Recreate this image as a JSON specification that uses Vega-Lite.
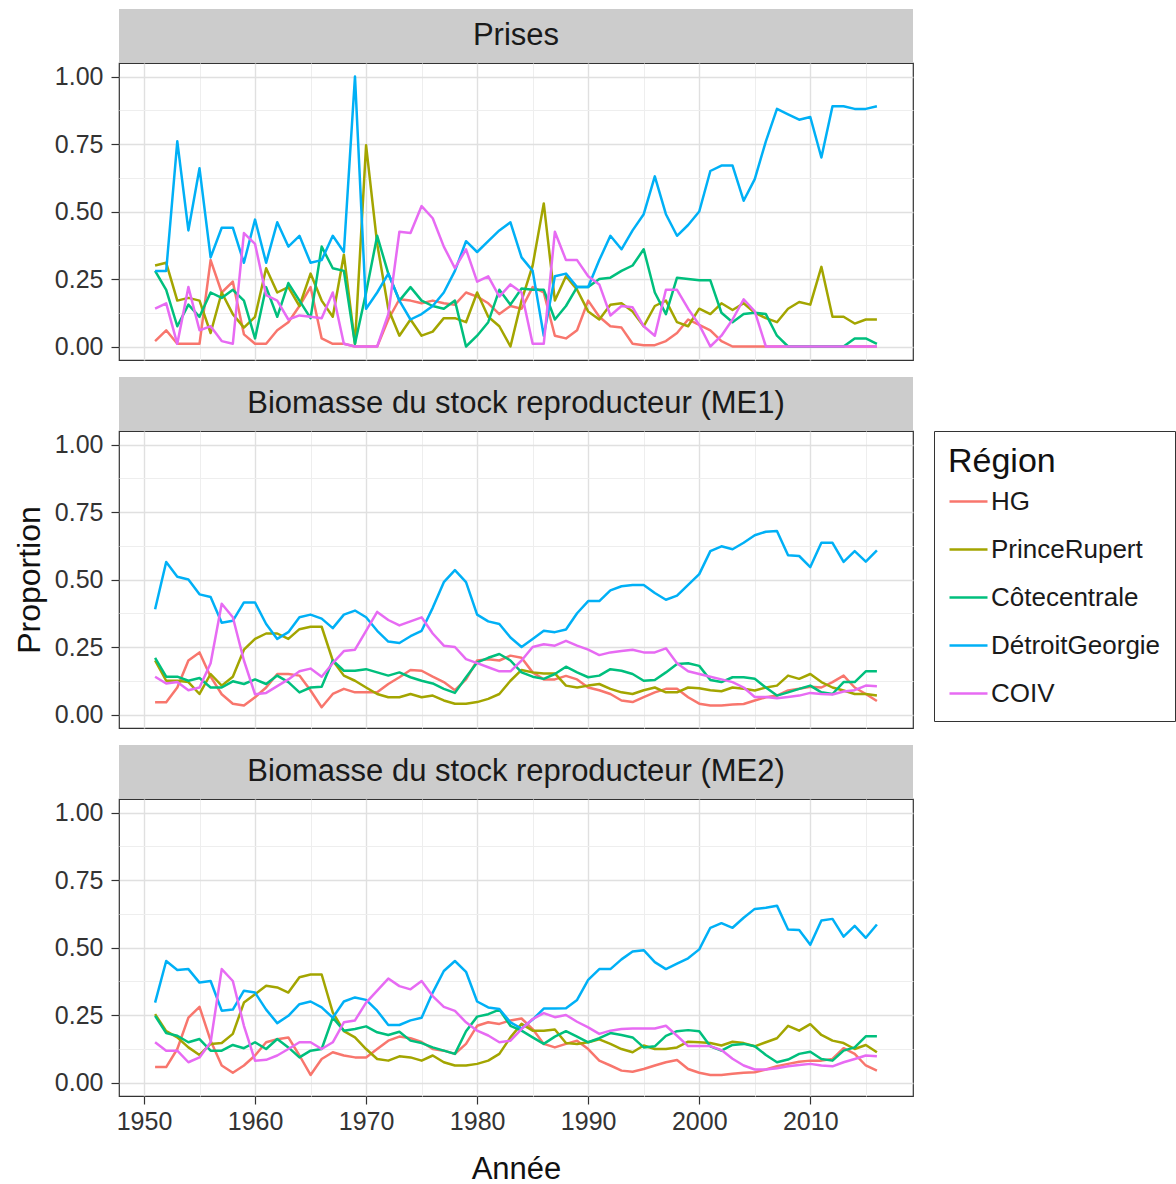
{
  "$schema": "https://vega.github.io/schema/vega-lite/v6.json",
  "background": "white",
  "padding": {"left": 12, "top": 9, "right": 0, "bottom": 0},
  "autosize": {"type": "pad"},
  "config": {
    "font": "Liberation Sans",
    "view": {"stroke": "#333333", "strokeWidth": 1.2},
    "concat": {"spacing": 16},
    "axis": {
      "labelFont": "Liberation Sans",
      "labelFontSize": 25,
      "labelColor": "#333333",
      "labelOverlap": false,
      "labelFlush": false,
      "tickColor": "#333333",
      "tickSize": 8,
      "tickWidth": 1.2,
      "domain": false,
      "titleFont": "Liberation Sans",
      "titleFontWeight": "normal",
      "titleColor": "#111111"
    },
    "legend": {
      "labelFont": "Liberation Sans",
      "titleFont": "Liberation Sans"
    }
  },
  "datasets": {
    "prises": [
      {"Année":1951,"HG":0.02,"PrinceRupert":0.30,"Côtecentrale":0.28,"DétroitGeorgie":0.28,"COIV":0.14},
      {"Année":1952,"HG":0.06,"PrinceRupert":0.31,"Côtecentrale":0.21,"DétroitGeorgie":0.28,"COIV":0.16},
      {"Année":1953,"HG":0.01,"PrinceRupert":0.17,"Côtecentrale":0.075,"DétroitGeorgie":0.76,"COIV":0.01},
      {"Année":1954,"HG":0.01,"PrinceRupert":0.18,"Côtecentrale":0.155,"DétroitGeorgie":0.43,"COIV":0.22},
      {"Année":1955,"HG":0.01,"PrinceRupert":0.17,"Côtecentrale":0.11,"DétroitGeorgie":0.66,"COIV":0.06},
      {"Année":1956,"HG":0.32,"PrinceRupert":0.05,"Côtecentrale":0.20,"DétroitGeorgie":0.33,"COIV":0.075},
      {"Année":1957,"HG":0.20,"PrinceRupert":0.20,"Côtecentrale":0.18,"DétroitGeorgie":0.44,"COIV":0.02},
      {"Année":1958,"HG":0.24,"PrinceRupert":0.12,"Côtecentrale":0.21,"DétroitGeorgie":0.44,"COIV":0.01},
      {"Année":1959,"HG":0.045,"PrinceRupert":0.07,"Côtecentrale":0.17,"DétroitGeorgie":0.31,"COIV":0.42},
      {"Année":1960,"HG":0.01,"PrinceRupert":0.11,"Côtecentrale":0.03,"DétroitGeorgie":0.47,"COIV":0.38},
      {"Année":1961,"HG":0.01,"PrinceRupert":0.29,"Côtecentrale":0.22,"DétroitGeorgie":0.31,"COIV":0.19},
      {"Année":1962,"HG":0.06,"PrinceRupert":0.20,"Côtecentrale":0.11,"DétroitGeorgie":0.46,"COIV":0.17},
      {"Année":1963,"HG":0.09,"PrinceRupert":0.22,"Côtecentrale":0.235,"DétroitGeorgie":0.37,"COIV":0.10},
      {"Année":1964,"HG":0.15,"PrinceRupert":0.15,"Côtecentrale":0.17,"DétroitGeorgie":0.41,"COIV":0.115},
      {"Année":1965,"HG":0.22,"PrinceRupert":0.27,"Côtecentrale":0.105,"DétroitGeorgie":0.31,"COIV":0.11},
      {"Année":1966,"HG":0.03,"PrinceRupert":0.17,"Côtecentrale":0.37,"DétroitGeorgie":0.32,"COIV":0.105},
      {"Année":1967,"HG":0.01,"PrinceRupert":0.11,"Côtecentrale":0.29,"DétroitGeorgie":0.41,"COIV":0.20},
      {"Année":1968,"HG":0.01,"PrinceRupert":0.34,"Côtecentrale":0.28,"DétroitGeorgie":0.35,"COIV":0.01},
      {"Année":1969,"HG":0.0,"PrinceRupert":0.01,"Côtecentrale":0.01,"DétroitGeorgie":1.00,"COIV":0.0},
      {"Année":1970,"HG":0.0,"PrinceRupert":0.745,"Côtecentrale":0.20,"DétroitGeorgie":0.14,"COIV":0.0},
      {"Année":1971,"HG":0.0,"PrinceRupert":0.38,"Côtecentrale":0.41,"DétroitGeorgie":0.20,"COIV":0.0},
      {"Année":1972,"HG":0.10,"PrinceRupert":0.14,"Côtecentrale":0.27,"DétroitGeorgie":0.27,"COIV":0.12},
      {"Année":1973,"HG":0.175,"PrinceRupert":0.04,"Côtecentrale":0.17,"DétroitGeorgie":0.17,"COIV":0.425},
      {"Année":1974,"HG":0.17,"PrinceRupert":0.10,"Côtecentrale":0.22,"DétroitGeorgie":0.10,"COIV":0.42},
      {"Année":1975,"HG":0.16,"PrinceRupert":0.04,"Côtecentrale":0.17,"DétroitGeorgie":0.12,"COIV":0.52},
      {"Année":1976,"HG":0.17,"PrinceRupert":0.055,"Côtecentrale":0.15,"DétroitGeorgie":0.15,"COIV":0.475},
      {"Année":1977,"HG":0.16,"PrinceRupert":0.105,"Côtecentrale":0.14,"DétroitGeorgie":0.20,"COIV":0.37},
      {"Année":1978,"HG":0.155,"PrinceRupert":0.105,"Côtecentrale":0.17,"DétroitGeorgie":0.28,"COIV":0.29},
      {"Année":1979,"HG":0.20,"PrinceRupert":0.09,"Côtecentrale":0.0,"DétroitGeorgie":0.39,"COIV":0.36},
      {"Année":1980,"HG":0.185,"PrinceRupert":0.20,"Côtecentrale":0.04,"DétroitGeorgie":0.35,"COIV":0.24},
      {"Année":1981,"HG":0.16,"PrinceRupert":0.11,"Côtecentrale":0.09,"DétroitGeorgie":0.39,"COIV":0.26},
      {"Année":1982,"HG":0.12,"PrinceRupert":0.075,"Côtecentrale":0.21,"DétroitGeorgie":0.43,"COIV":0.185},
      {"Année":1983,"HG":0.15,"PrinceRupert":0.0,"Côtecentrale":0.155,"DétroitGeorgie":0.46,"COIV":0.23},
      {"Année":1984,"HG":0.14,"PrinceRupert":0.17,"Côtecentrale":0.215,"DétroitGeorgie":0.33,"COIV":0.20},
      {"Année":1985,"HG":0.22,"PrinceRupert":0.30,"Côtecentrale":0.21,"DétroitGeorgie":0.28,"COIV":0.01},
      {"Année":1986,"HG":0.20,"PrinceRupert":0.53,"Côtecentrale":0.21,"DétroitGeorgie":0.04,"COIV":0.01},
      {"Année":1987,"HG":0.04,"PrinceRupert":0.17,"Côtecentrale":0.10,"DétroitGeorgie":0.26,"COIV":0.425},
      {"Année":1988,"HG":0.03,"PrinceRupert":0.26,"Côtecentrale":0.15,"DétroitGeorgie":0.27,"COIV":0.32},
      {"Année":1989,"HG":0.06,"PrinceRupert":0.21,"Côtecentrale":0.22,"DétroitGeorgie":0.22,"COIV":0.32},
      {"Année":1990,"HG":0.17,"PrinceRupert":0.13,"Côtecentrale":0.22,"DétroitGeorgie":0.22,"COIV":0.26},
      {"Année":1991,"HG":0.11,"PrinceRupert":0.10,"Côtecentrale":0.25,"DétroitGeorgie":0.32,"COIV":0.23},
      {"Année":1992,"HG":0.075,"PrinceRupert":0.155,"Côtecentrale":0.255,"DétroitGeorgie":0.41,"COIV":0.115},
      {"Année":1993,"HG":0.07,"PrinceRupert":0.16,"Côtecentrale":0.28,"DétroitGeorgie":0.36,"COIV":0.15},
      {"Année":1994,"HG":0.01,"PrinceRupert":0.13,"Côtecentrale":0.30,"DétroitGeorgie":0.43,"COIV":0.145},
      {"Année":1995,"HG":0.005,"PrinceRupert":0.075,"Côtecentrale":0.36,"DétroitGeorgie":0.49,"COIV":0.075},
      {"Année":1996,"HG":0.005,"PrinceRupert":0.15,"Côtecentrale":0.20,"DétroitGeorgie":0.63,"COIV":0.04},
      {"Année":1997,"HG":0.02,"PrinceRupert":0.17,"Côtecentrale":0.12,"DétroitGeorgie":0.49,"COIV":0.21},
      {"Année":1998,"HG":0.05,"PrinceRupert":0.09,"Côtecentrale":0.255,"DétroitGeorgie":0.41,"COIV":0.21},
      {"Année":1999,"HG":0.10,"PrinceRupert":0.075,"Côtecentrale":0.25,"DétroitGeorgie":0.45,"COIV":0.14},
      {"Année":2000,"HG":0.08,"PrinceRupert":0.14,"Côtecentrale":0.245,"DétroitGeorgie":0.50,"COIV":0.08},
      {"Année":2001,"HG":0.06,"PrinceRupert":0.12,"Côtecentrale":0.245,"DétroitGeorgie":0.65,"COIV":0.0},
      {"Année":2002,"HG":0.02,"PrinceRupert":0.16,"Côtecentrale":0.125,"DétroitGeorgie":0.67,"COIV":0.04},
      {"Année":2003,"HG":0.0,"PrinceRupert":0.135,"Côtecentrale":0.09,"DétroitGeorgie":0.67,"COIV":0.10},
      {"Année":2004,"HG":0.0,"PrinceRupert":0.16,"Côtecentrale":0.12,"DétroitGeorgie":0.54,"COIV":0.175},
      {"Année":2005,"HG":0.0,"PrinceRupert":0.125,"Côtecentrale":0.125,"DétroitGeorgie":0.62,"COIV":0.13},
      {"Année":2006,"HG":0.0,"PrinceRupert":0.105,"Côtecentrale":0.12,"DétroitGeorgie":0.76,"COIV":0.0},
      {"Année":2007,"HG":0.0,"PrinceRupert":0.09,"Côtecentrale":0.04,"DétroitGeorgie":0.88,"COIV":0.0},
      {"Année":2008,"HG":0.0,"PrinceRupert":0.14,"Côtecentrale":0.0,"DétroitGeorgie":0.86,"COIV":0.0},
      {"Année":2009,"HG":0.0,"PrinceRupert":0.165,"Côtecentrale":0.0,"DétroitGeorgie":0.84,"COIV":0.0},
      {"Année":2010,"HG":0.0,"PrinceRupert":0.155,"Côtecentrale":0.0,"DétroitGeorgie":0.85,"COIV":0.0},
      {"Année":2011,"HG":0.0,"PrinceRupert":0.295,"Côtecentrale":0.0,"DétroitGeorgie":0.70,"COIV":0.0},
      {"Année":2012,"HG":0.0,"PrinceRupert":0.11,"Côtecentrale":0.0,"DétroitGeorgie":0.89,"COIV":0.0},
      {"Année":2013,"HG":0.0,"PrinceRupert":0.11,"Côtecentrale":0.0,"DétroitGeorgie":0.89,"COIV":0.0},
      {"Année":2014,"HG":0.0,"PrinceRupert":0.085,"Côtecentrale":0.03,"DétroitGeorgie":0.88,"COIV":0.0},
      {"Année":2015,"HG":0.0,"PrinceRupert":0.10,"Côtecentrale":0.03,"DétroitGeorgie":0.88,"COIV":0.0},
      {"Année":2016,"HG":0.0,"PrinceRupert":0.10,"Côtecentrale":0.01,"DétroitGeorgie":0.89,"COIV":0.0}
    ],
    "me1": [
      {"Année":1951,"HG":0.045,"PrinceRupert":0.20,"Côtecentrale":0.21,"DétroitGeorgie":0.39,"COIV":0.14},
      {"Année":1952,"HG":0.045,"PrinceRupert":0.125,"Côtecentrale":0.14,"DétroitGeorgie":0.565,"COIV":0.115},
      {"Année":1953,"HG":0.10,"PrinceRupert":0.125,"Côtecentrale":0.14,"DétroitGeorgie":0.51,"COIV":0.12},
      {"Année":1954,"HG":0.20,"PrinceRupert":0.12,"Côtecentrale":0.125,"DétroitGeorgie":0.50,"COIV":0.09},
      {"Année":1955,"HG":0.23,"PrinceRupert":0.076,"Côtecentrale":0.135,"DétroitGeorgie":0.445,"COIV":0.10},
      {"Année":1956,"HG":0.14,"PrinceRupert":0.15,"Côtecentrale":0.10,"DétroitGeorgie":0.435,"COIV":0.19},
      {"Année":1957,"HG":0.075,"PrinceRupert":0.107,"Côtecentrale":0.10,"DétroitGeorgie":0.34,"COIV":0.41},
      {"Année":1958,"HG":0.04,"PrinceRupert":0.14,"Côtecentrale":0.123,"DétroitGeorgie":0.347,"COIV":0.36},
      {"Année":1959,"HG":0.033,"PrinceRupert":0.24,"Côtecentrale":0.113,"DétroitGeorgie":0.415,"COIV":0.20},
      {"Année":1960,"HG":0.064,"PrinceRupert":0.28,"Côtecentrale":0.13,"DétroitGeorgie":0.415,"COIV":0.075},
      {"Année":1961,"HG":0.10,"PrinceRupert":0.30,"Côtecentrale":0.113,"DétroitGeorgie":0.335,"COIV":0.08},
      {"Année":1962,"HG":0.15,"PrinceRupert":0.30,"Côtecentrale":0.144,"DétroitGeorgie":0.28,"COIV":0.105},
      {"Année":1963,"HG":0.15,"PrinceRupert":0.28,"Côtecentrale":0.12,"DétroitGeorgie":0.305,"COIV":0.13},
      {"Année":1964,"HG":0.144,"PrinceRupert":0.316,"Côtecentrale":0.082,"DétroitGeorgie":0.36,"COIV":0.16},
      {"Année":1965,"HG":0.089,"PrinceRupert":0.325,"Côtecentrale":0.10,"DétroitGeorgie":0.37,"COIV":0.17},
      {"Année":1966,"HG":0.027,"PrinceRupert":0.325,"Côtecentrale":0.103,"DétroitGeorgie":0.355,"COIV":0.14},
      {"Année":1967,"HG":0.076,"PrinceRupert":0.20,"Côtecentrale":0.20,"DétroitGeorgie":0.32,"COIV":0.19},
      {"Année":1968,"HG":0.095,"PrinceRupert":0.144,"Côtecentrale":0.162,"DétroitGeorgie":0.37,"COIV":0.235},
      {"Année":1969,"HG":0.082,"PrinceRupert":0.125,"Côtecentrale":0.162,"DétroitGeorgie":0.385,"COIV":0.24},
      {"Année":1970,"HG":0.082,"PrinceRupert":0.10,"Côtecentrale":0.168,"DétroitGeorgie":0.36,"COIV":0.31},
      {"Année":1971,"HG":0.082,"PrinceRupert":0.076,"Côtecentrale":0.156,"DétroitGeorgie":0.31,"COIV":0.38},
      {"Année":1972,"HG":0.113,"PrinceRupert":0.064,"Côtecentrale":0.144,"DétroitGeorgie":0.27,"COIV":0.35},
      {"Année":1973,"HG":0.138,"PrinceRupert":0.064,"Côtecentrale":0.156,"DétroitGeorgie":0.265,"COIV":0.33},
      {"Année":1974,"HG":0.165,"PrinceRupert":0.076,"Côtecentrale":0.138,"DétroitGeorgie":0.29,"COIV":0.345},
      {"Année":1975,"HG":0.162,"PrinceRupert":0.064,"Côtecentrale":0.125,"DétroitGeorgie":0.31,"COIV":0.36},
      {"Année":1976,"HG":0.14,"PrinceRupert":0.07,"Côtecentrale":0.115,"DétroitGeorgie":0.395,"COIV":0.30},
      {"Année":1977,"HG":0.12,"PrinceRupert":0.052,"Côtecentrale":0.095,"DétroitGeorgie":0.49,"COIV":0.255},
      {"Année":1978,"HG":0.09,"PrinceRupert":0.04,"Côtecentrale":0.08,"DétroitGeorgie":0.535,"COIV":0.25},
      {"Année":1979,"HG":0.13,"PrinceRupert":0.04,"Côtecentrale":0.138,"DétroitGeorgie":0.49,"COIV":0.205},
      {"Année":1980,"HG":0.20,"PrinceRupert":0.046,"Côtecentrale":0.193,"DétroitGeorgie":0.37,"COIV":0.19},
      {"Année":1981,"HG":0.205,"PrinceRupert":0.058,"Côtecentrale":0.21,"DétroitGeorgie":0.345,"COIV":0.175},
      {"Année":1982,"HG":0.20,"PrinceRupert":0.076,"Côtecentrale":0.224,"DétroitGeorgie":0.335,"COIV":0.16},
      {"Année":1983,"HG":0.218,"PrinceRupert":0.125,"Côtecentrale":0.20,"DétroitGeorgie":0.285,"COIV":0.16},
      {"Année":1984,"HG":0.21,"PrinceRupert":0.165,"Côtecentrale":0.156,"DétroitGeorgie":0.25,"COIV":0.20},
      {"Année":1985,"HG":0.156,"PrinceRupert":0.156,"Côtecentrale":0.14,"DétroitGeorgie":0.28,"COIV":0.25},
      {"Année":1986,"HG":0.13,"PrinceRupert":0.152,"Côtecentrale":0.132,"DétroitGeorgie":0.31,"COIV":0.26},
      {"Année":1987,"HG":0.13,"PrinceRupert":0.152,"Côtecentrale":0.15,"DétroitGeorgie":0.305,"COIV":0.255},
      {"Année":1988,"HG":0.143,"PrinceRupert":0.107,"Côtecentrale":0.177,"DétroitGeorgie":0.315,"COIV":0.273},
      {"Année":1989,"HG":0.13,"PrinceRupert":0.10,"Côtecentrale":0.156,"DétroitGeorgie":0.375,"COIV":0.255},
      {"Année":1990,"HG":0.10,"PrinceRupert":0.107,"Côtecentrale":0.138,"DétroitGeorgie":0.42,"COIV":0.24},
      {"Année":1991,"HG":0.09,"PrinceRupert":0.113,"Côtecentrale":0.144,"DétroitGeorgie":0.42,"COIV":0.22},
      {"Année":1992,"HG":0.076,"PrinceRupert":0.095,"Côtecentrale":0.168,"DétroitGeorgie":0.46,"COIV":0.23},
      {"Année":1993,"HG":0.052,"PrinceRupert":0.082,"Côtecentrale":0.162,"DétroitGeorgie":0.475,"COIV":0.235},
      {"Année":1994,"HG":0.046,"PrinceRupert":0.076,"Côtecentrale":0.15,"DétroitGeorgie":0.48,"COIV":0.24},
      {"Année":1995,"HG":0.064,"PrinceRupert":0.09,"Côtecentrale":0.125,"DétroitGeorgie":0.48,"COIV":0.23},
      {"Année":1996,"HG":0.082,"PrinceRupert":0.10,"Côtecentrale":0.128,"DétroitGeorgie":0.45,"COIV":0.23},
      {"Année":1997,"HG":0.095,"PrinceRupert":0.082,"Côtecentrale":0.156,"DétroitGeorgie":0.425,"COIV":0.245},
      {"Année":1998,"HG":0.095,"PrinceRupert":0.082,"Côtecentrale":0.187,"DétroitGeorgie":0.44,"COIV":0.19},
      {"Année":1999,"HG":0.064,"PrinceRupert":0.10,"Côtecentrale":0.19,"DétroitGeorgie":0.48,"COIV":0.16},
      {"Année":2000,"HG":0.04,"PrinceRupert":0.097,"Côtecentrale":0.18,"DétroitGeorgie":0.52,"COIV":0.15},
      {"Année":2001,"HG":0.033,"PrinceRupert":0.09,"Côtecentrale":0.128,"DétroitGeorgie":0.605,"COIV":0.14},
      {"Année":2002,"HG":0.033,"PrinceRupert":0.086,"Côtecentrale":0.12,"DétroitGeorgie":0.623,"COIV":0.13},
      {"Année":2003,"HG":0.037,"PrinceRupert":0.10,"Côtecentrale":0.138,"DétroitGeorgie":0.612,"COIV":0.12},
      {"Année":2004,"HG":0.039,"PrinceRupert":0.095,"Côtecentrale":0.138,"DétroitGeorgie":0.636,"COIV":0.10},
      {"Année":2005,"HG":0.052,"PrinceRupert":0.089,"Côtecentrale":0.132,"DétroitGeorgie":0.664,"COIV":0.065},
      {"Année":2006,"HG":0.064,"PrinceRupert":0.10,"Côtecentrale":0.10,"DétroitGeorgie":0.677,"COIV":0.065},
      {"Année":2007,"HG":0.07,"PrinceRupert":0.107,"Côtecentrale":0.07,"DétroitGeorgie":0.68,"COIV":0.06},
      {"Année":2008,"HG":0.089,"PrinceRupert":0.144,"Côtecentrale":0.082,"DétroitGeorgie":0.59,"COIV":0.065},
      {"Année":2009,"HG":0.095,"PrinceRupert":0.132,"Côtecentrale":0.095,"DétroitGeorgie":0.587,"COIV":0.07},
      {"Année":2010,"HG":0.103,"PrinceRupert":0.15,"Côtecentrale":0.107,"DétroitGeorgie":0.546,"COIV":0.08},
      {"Année":2011,"HG":0.10,"PrinceRupert":0.12,"Côtecentrale":0.082,"DétroitGeorgie":0.636,"COIV":0.076},
      {"Année":2012,"HG":0.12,"PrinceRupert":0.10,"Côtecentrale":0.076,"DétroitGeorgie":0.636,"COIV":0.074},
      {"Année":2013,"HG":0.144,"PrinceRupert":0.089,"Côtecentrale":0.12,"DétroitGeorgie":0.565,"COIV":0.085},
      {"Année":2014,"HG":0.10,"PrinceRupert":0.076,"Côtecentrale":0.12,"DétroitGeorgie":0.605,"COIV":0.09},
      {"Année":2015,"HG":0.076,"PrinceRupert":0.076,"Côtecentrale":0.16,"DétroitGeorgie":0.566,"COIV":0.107},
      {"Année":2016,"HG":0.05,"PrinceRupert":0.07,"Côtecentrale":0.16,"DétroitGeorgie":0.608,"COIV":0.105}
    ],
    "me2": [
      {"Année":1951,"HG":0.057,"PrinceRupert":0.253,"Côtecentrale":0.247,"DétroitGeorgie":0.296,"COIV":0.149},
      {"Année":1952,"HG":0.057,"PrinceRupert":0.19,"Côtecentrale":0.183,"DétroitGeorgie":0.45,"COIV":0.118},
      {"Année":1953,"HG":0.124,"PrinceRupert":0.167,"Côtecentrale":0.173,"DétroitGeorgie":0.417,"COIV":0.118},
      {"Année":1954,"HG":0.24,"PrinceRupert":0.13,"Côtecentrale":0.149,"DétroitGeorgie":0.42,"COIV":0.075},
      {"Année":1955,"HG":0.28,"PrinceRupert":0.102,"Côtecentrale":0.161,"DétroitGeorgie":0.37,"COIV":0.093},
      {"Année":1956,"HG":0.155,"PrinceRupert":0.143,"Côtecentrale":0.118,"DétroitGeorgie":0.376,"COIV":0.149},
      {"Année":1957,"HG":0.063,"PrinceRupert":0.146,"Côtecentrale":0.118,"DétroitGeorgie":0.266,"COIV":0.42},
      {"Année":1958,"HG":0.036,"PrinceRupert":0.18,"Côtecentrale":0.139,"DétroitGeorgie":0.27,"COIV":0.376},
      {"Année":1959,"HG":0.063,"PrinceRupert":0.296,"Côtecentrale":0.127,"DétroitGeorgie":0.34,"COIV":0.21},
      {"Année":1960,"HG":0.10,"PrinceRupert":0.327,"Côtecentrale":0.149,"DétroitGeorgie":0.333,"COIV":0.081},
      {"Année":1961,"HG":0.149,"PrinceRupert":0.358,"Côtecentrale":0.124,"DétroitGeorgie":0.27,"COIV":0.084},
      {"Année":1962,"HG":0.16,"PrinceRupert":0.352,"Côtecentrale":0.161,"DétroitGeorgie":0.22,"COIV":0.10},
      {"Année":1963,"HG":0.167,"PrinceRupert":0.333,"Côtecentrale":0.13,"DétroitGeorgie":0.247,"COIV":0.124},
      {"Année":1964,"HG":0.10,"PrinceRupert":0.39,"Côtecentrale":0.093,"DétroitGeorgie":0.29,"COIV":0.149},
      {"Année":1965,"HG":0.028,"PrinceRupert":0.40,"Côtecentrale":0.118,"DétroitGeorgie":0.30,"COIV":0.149},
      {"Année":1966,"HG":0.087,"PrinceRupert":0.40,"Côtecentrale":0.124,"DétroitGeorgie":0.278,"COIV":0.124},
      {"Année":1967,"HG":0.112,"PrinceRupert":0.26,"Côtecentrale":0.24,"DétroitGeorgie":0.24,"COIV":0.149},
      {"Année":1968,"HG":0.10,"PrinceRupert":0.19,"Côtecentrale":0.192,"DétroitGeorgie":0.30,"COIV":0.223},
      {"Année":1969,"HG":0.093,"PrinceRupert":0.167,"Côtecentrale":0.198,"DétroitGeorgie":0.315,"COIV":0.23},
      {"Année":1970,"HG":0.093,"PrinceRupert":0.124,"Côtecentrale":0.208,"DétroitGeorgie":0.306,"COIV":0.296},
      {"Année":1971,"HG":0.124,"PrinceRupert":0.087,"Côtecentrale":0.186,"DétroitGeorgie":0.266,"COIV":0.34},
      {"Année":1972,"HG":0.155,"PrinceRupert":0.081,"Côtecentrale":0.176,"DétroitGeorgie":0.213,"COIV":0.385},
      {"Année":1973,"HG":0.17,"PrinceRupert":0.097,"Côtecentrale":0.188,"DétroitGeorgie":0.213,"COIV":0.357},
      {"Année":1974,"HG":0.164,"PrinceRupert":0.093,"Côtecentrale":0.155,"DétroitGeorgie":0.23,"COIV":0.345},
      {"Année":1975,"HG":0.15,"PrinceRupert":0.081,"Côtecentrale":0.146,"DétroitGeorgie":0.24,"COIV":0.376},
      {"Année":1976,"HG":0.124,"PrinceRupert":0.10,"Côtecentrale":0.13,"DétroitGeorgie":0.333,"COIV":0.32},
      {"Année":1977,"HG":0.118,"PrinceRupert":0.075,"Côtecentrale":0.118,"DétroitGeorgie":0.413,"COIV":0.28},
      {"Année":1978,"HG":0.106,"PrinceRupert":0.063,"Côtecentrale":0.106,"DétroitGeorgie":0.45,"COIV":0.265},
      {"Année":1979,"HG":0.143,"PrinceRupert":0.063,"Côtecentrale":0.19,"DétroitGeorgie":0.41,"COIV":0.223},
      {"Année":1980,"HG":0.21,"PrinceRupert":0.069,"Côtecentrale":0.244,"DétroitGeorgie":0.30,"COIV":0.192},
      {"Année":1981,"HG":0.223,"PrinceRupert":0.081,"Côtecentrale":0.253,"DétroitGeorgie":0.278,"COIV":0.174},
      {"Année":1982,"HG":0.217,"PrinceRupert":0.106,"Côtecentrale":0.27,"DétroitGeorgie":0.272,"COIV":0.149},
      {"Année":1983,"HG":0.23,"PrinceRupert":0.167,"Côtecentrale":0.21,"DétroitGeorgie":0.223,"COIV":0.155},
      {"Année":1984,"HG":0.237,"PrinceRupert":0.217,"Côtecentrale":0.192,"DétroitGeorgie":0.20,"COIV":0.198},
      {"Année":1985,"HG":0.198,"PrinceRupert":0.192,"Côtecentrale":0.167,"DétroitGeorgie":0.233,"COIV":0.235},
      {"Année":1986,"HG":0.143,"PrinceRupert":0.192,"Côtecentrale":0.143,"DétroitGeorgie":0.274,"COIV":0.257},
      {"Année":1987,"HG":0.13,"PrinceRupert":0.196,"Côtecentrale":0.17,"DétroitGeorgie":0.274,"COIV":0.242},
      {"Année":1988,"HG":0.143,"PrinceRupert":0.146,"Côtecentrale":0.19,"DétroitGeorgie":0.275,"COIV":0.25},
      {"Année":1989,"HG":0.155,"PrinceRupert":0.143,"Côtecentrale":0.17,"DétroitGeorgie":0.306,"COIV":0.225},
      {"Année":1990,"HG":0.124,"PrinceRupert":0.149,"Côtecentrale":0.149,"DétroitGeorgie":0.38,"COIV":0.204},
      {"Année":1991,"HG":0.081,"PrinceRupert":0.16,"Côtecentrale":0.164,"DétroitGeorgie":0.42,"COIV":0.18},
      {"Année":1992,"HG":0.063,"PrinceRupert":0.143,"Côtecentrale":0.183,"DétroitGeorgie":0.42,"COIV":0.192},
      {"Année":1993,"HG":0.044,"PrinceRupert":0.124,"Côtecentrale":0.176,"DétroitGeorgie":0.456,"COIV":0.198},
      {"Année":1994,"HG":0.04,"PrinceRupert":0.112,"Côtecentrale":0.167,"DétroitGeorgie":0.485,"COIV":0.20},
      {"Année":1995,"HG":0.05,"PrinceRupert":0.137,"Côtecentrale":0.13,"DétroitGeorgie":0.49,"COIV":0.20},
      {"Année":1996,"HG":0.063,"PrinceRupert":0.124,"Côtecentrale":0.134,"DétroitGeorgie":0.446,"COIV":0.20},
      {"Année":1997,"HG":0.075,"PrinceRupert":0.124,"Côtecentrale":0.173,"DétroitGeorgie":0.42,"COIV":0.21},
      {"Année":1998,"HG":0.083,"PrinceRupert":0.13,"Côtecentrale":0.19,"DétroitGeorgie":0.44,"COIV":0.173},
      {"Année":1999,"HG":0.05,"PrinceRupert":0.151,"Côtecentrale":0.194,"DétroitGeorgie":0.46,"COIV":0.135},
      {"Année":2000,"HG":0.036,"PrinceRupert":0.149,"Côtecentrale":0.19,"DétroitGeorgie":0.493,"COIV":0.135},
      {"Année":2001,"HG":0.028,"PrinceRupert":0.146,"Côtecentrale":0.134,"DétroitGeorgie":0.573,"COIV":0.135},
      {"Année":2002,"HG":0.028,"PrinceRupert":0.137,"Côtecentrale":0.118,"DétroitGeorgie":0.59,"COIV":0.12},
      {"Année":2003,"HG":0.032,"PrinceRupert":0.151,"Côtecentrale":0.139,"DétroitGeorgie":0.573,"COIV":0.088},
      {"Année":2004,"HG":0.036,"PrinceRupert":0.146,"Côtecentrale":0.143,"DétroitGeorgie":0.61,"COIV":0.063},
      {"Année":2005,"HG":0.038,"PrinceRupert":0.134,"Côtecentrale":0.134,"DétroitGeorgie":0.643,"COIV":0.048},
      {"Année":2006,"HG":0.048,"PrinceRupert":0.149,"Côtecentrale":0.102,"DétroitGeorgie":0.647,"COIV":0.048},
      {"Année":2007,"HG":0.06,"PrinceRupert":0.164,"Côtecentrale":0.075,"DétroitGeorgie":0.655,"COIV":0.053},
      {"Année":2008,"HG":0.069,"PrinceRupert":0.21,"Côtecentrale":0.085,"DétroitGeorgie":0.567,"COIV":0.06},
      {"Année":2009,"HG":0.077,"PrinceRupert":0.192,"Côtecentrale":0.106,"DétroitGeorgie":0.565,"COIV":0.065},
      {"Année":2010,"HG":0.081,"PrinceRupert":0.216,"Côtecentrale":0.114,"DétroitGeorgie":0.51,"COIV":0.069},
      {"Année":2011,"HG":0.081,"PrinceRupert":0.176,"Côtecentrale":0.087,"DétroitGeorgie":0.60,"COIV":0.063},
      {"Année":2012,"HG":0.087,"PrinceRupert":0.155,"Côtecentrale":0.081,"DétroitGeorgie":0.606,"COIV":0.06},
      {"Année":2013,"HG":0.127,"PrinceRupert":0.146,"Côtecentrale":0.118,"DétroitGeorgie":0.54,"COIV":0.075},
      {"Année":2014,"HG":0.106,"PrinceRupert":0.124,"Côtecentrale":0.13,"DétroitGeorgie":0.58,"COIV":0.087},
      {"Année":2015,"HG":0.063,"PrinceRupert":0.139,"Côtecentrale":0.171,"DétroitGeorgie":0.536,"COIV":0.10},
      {"Année":2016,"HG":0.044,"PrinceRupert":0.112,"Côtecentrale":0.171,"DétroitGeorgie":0.585,"COIV":0.097}
    ]
  },
  "vconcat": [
    {
      "spacing": 0,
      "vconcat": [
        {
          "width": 794, "height": 53,
          "view": {"fill": "#cccccc", "stroke": null},
          "data": {"values": [{"titre": "Prises"}]},
          "mark": {"type": "text", "fontSize": 31, "color": "#1a1a1a", "font": "Liberation Sans"},
          "encoding": {"text": {"field": "titre"}}
        },
        {
          "width": 794, "height": 297,
          "data": {"name": "prises"},
          "transform": [{"fold": ["HG", "PrinceRupert", "Côtecentrale", "DétroitGeorgie", "COIV"], "as": ["Région", "Proportion"]}],
          "mark": {"type": "line", "strokeWidth": 2.5, "strokeJoin": "round"},
          "encoding": {
            "x": {"field": "Année", "type": "quantitative",
              "scale": {"domain": [1947.75, 2019.25], "nice": false, "zero": false},
              "axis": {"title": null, "values": [1950,1955,1960,1965,1970,1975,1980,1985,1990,1995,2000,2005,2010,2015], "labels": false, "ticks": false,
                "gridColor": {"condition": {"test": "datum.value % 10 === 0", "value": "#e0e0e0"}, "value": "#eeeeee"},
                "gridWidth": {"condition": {"test": "datum.value % 10 === 0", "value": 1.4}, "value": 1}}},
            "y": {"field": "Proportion", "type": "quantitative",
              "scale": {"domain": [-0.05, 1.05], "nice": false, "zero": false},
              "axis": {"title": null, "values": [0,0.125,0.25,0.375,0.5,0.625,0.75,0.875,1], "labelPadding": 8,
                "labelExpr": "datum.value * 4 % 1 === 0 ? format(datum.value, '.2f') : ''",
                "tickOpacity": {"condition": {"test": "datum.value * 4 % 1 === 0", "value": 1}, "value": 0},
                "gridColor": {"condition": {"test": "datum.value * 4 % 1 === 0", "value": "#e0e0e0"}, "value": "#eeeeee"},
                "gridWidth": {"condition": {"test": "datum.value * 4 % 1 === 0", "value": 1.4}, "value": 1}}},
            "color": {"field": "Région", "type": "nominal",
              "scale": {"domain": ["HG", "PrinceRupert", "Côtecentrale", "DétroitGeorgie", "COIV"], "range": ["#F8766D", "#A3A500", "#00BF7D", "#00B0F6", "#E76BF3"]},
              "legend": {"title": "Région", "orient": "none", "legendX": 815, "legendY": 422,
                "titleFontSize": 34, "titleFontWeight": "normal", "titleColor": "#111111", "titlePadding": 2,
                "labelFontSize": 26, "labelColor": "#1a1a1a", "labelOffset": 2, "labelLimit": 400,
                "symbolType": "stroke", "symbolSize": 1444, "symbolStrokeWidth": 2.5,
                "rowPadding": 14, "padding": 14, "strokeColor": "#333333"}}
          }
        }
      ]
    },
    {
      "spacing": 0,
      "vconcat": [
        {
          "width": 794, "height": 53,
          "view": {"fill": "#cccccc", "stroke": null},
          "data": {"values": [{"titre": "Biomasse du stock reproducteur (ME1)"}]},
          "mark": {"type": "text", "fontSize": 31, "color": "#1a1a1a", "font": "Liberation Sans"},
          "encoding": {"text": {"field": "titre"}}
        },
        {
          "width": 794, "height": 297,
          "data": {"name": "me1"},
          "transform": [{"fold": ["HG", "PrinceRupert", "Côtecentrale", "DétroitGeorgie", "COIV"], "as": ["Région", "Proportion"]}],
          "mark": {"type": "line", "strokeWidth": 2.5, "strokeJoin": "round"},
          "encoding": {
            "x": {"field": "Année", "type": "quantitative",
              "scale": {"domain": [1947.75, 2019.25], "nice": false, "zero": false},
              "axis": {"title": null, "values": [1950,1955,1960,1965,1970,1975,1980,1985,1990,1995,2000,2005,2010,2015], "labels": false, "ticks": false,
                "gridColor": {"condition": {"test": "datum.value % 10 === 0", "value": "#e0e0e0"}, "value": "#eeeeee"},
                "gridWidth": {"condition": {"test": "datum.value % 10 === 0", "value": 1.4}, "value": 1}}},
            "y": {"field": "Proportion", "type": "quantitative",
              "scale": {"domain": [-0.05, 1.05], "nice": false, "zero": false},
              "axis": {"title": "Proportion", "titleFontSize": 32, "titlePadding": 8, "values": [0,0.125,0.25,0.375,0.5,0.625,0.75,0.875,1], "labelPadding": 8,
                "labelExpr": "datum.value * 4 % 1 === 0 ? format(datum.value, '.2f') : ''",
                "tickOpacity": {"condition": {"test": "datum.value * 4 % 1 === 0", "value": 1}, "value": 0},
                "gridColor": {"condition": {"test": "datum.value * 4 % 1 === 0", "value": "#e0e0e0"}, "value": "#eeeeee"},
                "gridWidth": {"condition": {"test": "datum.value * 4 % 1 === 0", "value": 1.4}, "value": 1}}},
            "color": {"field": "Région", "type": "nominal",
              "scale": {"domain": ["HG", "PrinceRupert", "Côtecentrale", "DétroitGeorgie", "COIV"], "range": ["#F8766D", "#A3A500", "#00BF7D", "#00B0F6", "#E76BF3"]}}
          }
        }
      ]
    },
    {
      "spacing": 0,
      "vconcat": [
        {
          "width": 794, "height": 53,
          "view": {"fill": "#cccccc", "stroke": null},
          "data": {"values": [{"titre": "Biomasse du stock reproducteur (ME2)"}]},
          "mark": {"type": "text", "fontSize": 31, "color": "#1a1a1a", "font": "Liberation Sans"},
          "encoding": {"text": {"field": "titre"}}
        },
        {
          "width": 794, "height": 297,
          "data": {"name": "me2"},
          "transform": [{"fold": ["HG", "PrinceRupert", "Côtecentrale", "DétroitGeorgie", "COIV"], "as": ["Région", "Proportion"]}],
          "mark": {"type": "line", "strokeWidth": 2.5, "strokeJoin": "round"},
          "encoding": {
            "x": {"field": "Année", "type": "quantitative",
              "scale": {"domain": [1947.75, 2019.25], "nice": false, "zero": false},
              "axis": {"title": "Année", "titleFontSize": 31, "titlePadding": 20, "format": "d", "labelPadding": 5,
                "values": [1950,1955,1960,1965,1970,1975,1980,1985,1990,1995,2000,2005,2010,2015],
                "labelExpr": "datum.value % 10 === 0 ? datum.label : ''",
                "tickOpacity": {"condition": {"test": "datum.value % 10 === 0", "value": 1}, "value": 0},
                "gridColor": {"condition": {"test": "datum.value % 10 === 0", "value": "#e0e0e0"}, "value": "#eeeeee"},
                "gridWidth": {"condition": {"test": "datum.value % 10 === 0", "value": 1.4}, "value": 1}}},
            "y": {"field": "Proportion", "type": "quantitative",
              "scale": {"domain": [-0.05, 1.05], "nice": false, "zero": false},
              "axis": {"title": null, "values": [0,0.125,0.25,0.375,0.5,0.625,0.75,0.875,1], "labelPadding": 8,
                "labelExpr": "datum.value * 4 % 1 === 0 ? format(datum.value, '.2f') : ''",
                "tickOpacity": {"condition": {"test": "datum.value * 4 % 1 === 0", "value": 1}, "value": 0},
                "gridColor": {"condition": {"test": "datum.value * 4 % 1 === 0", "value": "#e0e0e0"}, "value": "#eeeeee"},
                "gridWidth": {"condition": {"test": "datum.value * 4 % 1 === 0", "value": 1.4}, "value": 1}}},
            "color": {"field": "Région", "type": "nominal",
              "scale": {"domain": ["HG", "PrinceRupert", "Côtecentrale", "DétroitGeorgie", "COIV"], "range": ["#F8766D", "#A3A500", "#00BF7D", "#00B0F6", "#E76BF3"]}}
          }
        }
      ]
    }
  ]
}
